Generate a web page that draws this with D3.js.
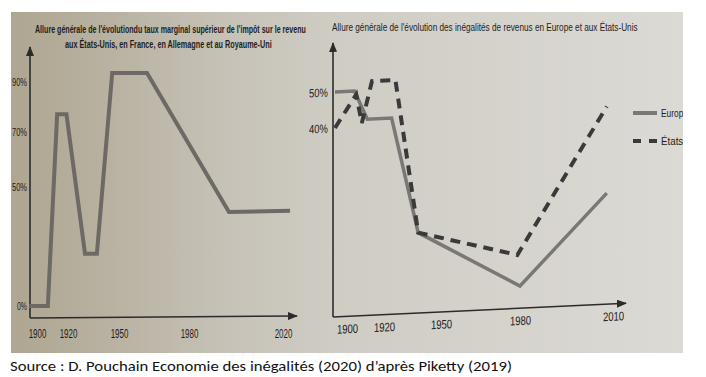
<!DOCTYPE html>
<html><head><meta charset="utf-8">
<script src="https://cdn.jsdelivr.net/npm/d3@7"></script>
<style>body{margin:0;background:#fff}</style>
</head><body>
<svg id="c" width="706" height="377"></svg>
<script>
// ---- data ----
const taxTitle = ["Allure générale de l'évolutiondu taux marginal supérieur de l'impôt sur le revenu",
                  "aux États-Unis, en France, en Allemagne et au Royaume-Uni"];
const taxYears = [1895, 1907, 1913, 1919, 1930, 1937, 1946, 1962, 1997, 2023];
const taxRates = [0, 0, 77, 77, 22, 22, 93.5, 93.5, 39.5, 40];
const taxYTicks = [0, 50, 70, 90];
const taxXTicks = [1900, 1920, 1950, 1980, 2020];

const ineqTitle = "Allure générale de l'évolution des inégalités de revenus en Europe et aux États-Unis";
const ineqEuropeYears = [1893.5, 1904, 1911, 1924, 1938, 1980, 2008];
const ineqEurope = [50, 50, 42, 42, 17, 4.7, 23.5];
const ineqUSYears = [1893.5, 1905, 1908, 1913.5, 1926, 1938, 1979, 2008];
const ineqUS = [40, 49, 41, 52.5, 52.5, 17, 11.3, 42.4];
const ineqYTicks = [40, 50];
const ineqXTicks = [1900, 1920, 1950, 1980, 2010];
const legendLabels = ["Europe", "États-Unis"];
const sourceText = "Source : D. Pouchain Economie des inégalités (2020) d’après Piketty (2019)";

// ---- drawing ----
const svg = d3.select("#c");
const defs = svg.append("defs");
const grad = defs.append("linearGradient").attr("id", "bg").attr("x1", 0).attr("x2", 1).attr("y1", 0).attr("y2", 0);
[[0, "#aea691"], [0.15, "#b9b2a2"], [0.32, "#c6c2b7"], [0.48, "#cfccc4"], [1, "#dcdad5"]]
  .forEach(([o, c]) => grad.append("stop").attr("offset", o).attr("stop-color", c));
defs.append("clipPath").attr("id", "photo").append("rect").attr("x", 11).attr("y", 12).attr("width", 672).attr("height", 341);
defs.append("marker").attr("id", "arr").attr("viewBox", "0 0 10 8").attr("refX", 9).attr("refY", 4)
  .attr("markerWidth", 10).attr("markerHeight", 8).attr("markerUnits", "userSpaceOnUse").attr("orient", "auto")
  .append("path").attr("d", "M0,0L10,4L0,8z").attr("fill", "#2b2b2b");

const root = svg.append("g").attr("clip-path", "url(#photo)");
root.append("rect").attr("x", 11).attr("y", 12).attr("width", 672).attr("height", 341).attr("fill", "url(#bg)");

const sans = "'Liberation Sans',Arial,sans-serif";
const axisCol = "#2b2b2b";
const tickCol = "#1c1c1c";
// condense a tick text to a given width per character
const squeeze = (sel, perChar) => sel.attr("textLength", function () { return this.textContent.length * perChar; })
  .attr("lengthAdjust", "spacingAndGlyphs");
// draw a text horizontally scaled so that it spans exactly `w` pixels
function fitText(parent, str, x, y, w, anchor, opts) {
  const t = parent.append("text").attr("font-family", sans).attr("font-size", opts.size)
    .attr("font-weight", opts.weight || "normal").attr("fill", opts.fill || "#222").text(str);
  const nat = t.node().getComputedTextLength();
  const k = w / nat;
  const x0 = anchor === "middle" ? x - w / 2 : x;
  t.attr("transform", `translate(${x0},${y}) scale(${k},1)`);
  return t;
}

// ---------- left chart ----------
const L = root.append("g");
const xL = d3.scaleLinear().domain(taxXTicks).range([37, 68, 119, 189, 283]);
const yL = d3.scaleLinear().domain(taxYTicks).range([306, 187, 131.7, 81.7]);

fitText(L, taxTitle[0], 170.5, 33, 271, "middle", {size: 11.5, weight: "bold", fill: "#1f1f1f"});
fitText(L, taxTitle[1], 168.5, 48, 207, "middle", {size: 11.5, weight: "bold", fill: "#1f1f1f"});

L.append("line").attr("x1", 30).attr("y1", 318).attr("x2", 30).attr("y2", 47)
  .attr("stroke", axisCol).attr("stroke-width", 1.6).attr("marker-end", "url(#arr)");
L.append("line").attr("x1", 30).attr("y1", 318).attr("x2", 297).attr("y2", 316)
  .attr("stroke", axisCol).attr("stroke-width", 1.6).attr("marker-end", "url(#arr)");

const yAxL = L.append("g").attr("transform", "translate(29,0)")
  .call(d3.axisLeft(yL).tickValues(taxYTicks).tickSize(0).tickPadding(2).tickFormat(d => d + "%"));
yAxL.select(".domain").remove();
yAxL.selectAll("text").attr("font-family", sans).attr("font-size", 11).attr("fill", tickCol).call(squeeze, 5);

const xAxL = L.append("g").attr("transform", "translate(0,318)")
  .call(d3.axisBottom(xL).tickValues(taxXTicks).tickSize(0).tickPadding(11).tickFormat(d3.format("d")));
xAxL.select(".domain").remove();
xAxL.selectAll("text").attr("font-family", sans).attr("font-size", 12).attr("fill", tickCol).call(squeeze, 4.4);

L.append("path").datum(taxYears.map((y, i) => [y, taxRates[i]]))
  .attr("d", d3.line().x(d => xL(d[0])).y(d => yL(d[1])))
  .attr("fill", "none").attr("stroke", "#6d6964").attr("stroke-width", 4).attr("stroke-linejoin", "miter");

// ---------- right chart ----------
const xR = d3.scaleLinear().domain(ineqXTicks).range([347, 384, 441, 520, 613]);
const yR = d3.scaleLinear().domain([0, 40, 50]).range([317, 128, 92]);

fitText(root, ineqTitle, 332, 31, 306, "start", {size: 11.5, fill: "#1f1f1f"});

const R = root.append("g").attr("transform", "translate(333,317) skewY(-2.69) translate(-333,-317)");
R.append("line").attr("x1", 333).attr("y1", 317).attr("x2", 333).attr("y2", 43)
  .attr("stroke", axisCol).attr("stroke-width", 1.6).attr("marker-end", "url(#arr)");
R.append("line").attr("x1", 333).attr("y1", 317).attr("x2", 626).attr("y2", 317)
  .attr("stroke", axisCol).attr("stroke-width", 1.6).attr("marker-end", "url(#arr)");

const yAxR = R.append("g").attr("transform", "translate(330,0)")
  .call(d3.axisLeft(yR).tickValues(ineqYTicks).tickSize(0).tickPadding(2).tickFormat(d => d + "%"));
yAxR.select(".domain").remove();
yAxR.selectAll("text").attr("font-family", sans).attr("font-size", 12).attr("fill", tickCol).call(squeeze, 6.3);

const xAxR = R.append("g").attr("transform", "translate(0,317)")
  .call(d3.axisBottom(xR).tickValues(ineqXTicks).tickSize(0).tickPadding(8).tickFormat(d3.format("d")));
xAxR.select(".domain").remove();
xAxR.selectAll("text").attr("font-family", sans).attr("font-size", 12.5).attr("fill", tickCol).call(squeeze, 5.3);

const lineR = d3.line().x(d => xR(d[0])).y(d => yR(d[1]));
R.append("path").datum(ineqEuropeYears.map((y, i) => [y, ineqEurope[i]]))
  .attr("d", lineR).attr("fill", "none").attr("stroke", "#7a7875").attr("stroke-width", 3.5);
R.append("path").datum(ineqUSYears.map((y, i) => [y, ineqUS[i]]))
  .attr("d", lineR).attr("fill", "none").attr("stroke", "#3a3a3a").attr("stroke-width", 4)
  .attr("stroke-dasharray", "10,7");

// legend (cut by the photo edge, as in the reference)
const lg = root.append("g").attr("transform", "translate(633,0)");
lg.append("line").attr("x1", 0).attr("x2", 24).attr("y1", 113).attr("y2", 113)
  .attr("stroke", "#7a7875").attr("stroke-width", 4);
lg.append("line").attr("x1", 0).attr("x2", 24).attr("y1", 141).attr("y2", 141)
  .attr("stroke", "#3a3a3a").attr("stroke-width", 4).attr("stroke-dasharray", "8,8");
lg.selectAll("text").data(legendLabels).join("text")
  .attr("x", 28).attr("y", (d, i) => i ? 145 : 117)
  .attr("font-family", sans).attr("font-size", 11.5).attr("fill", tickCol).text(d => d).call(squeeze, 4.5);

// source caption
svg.append("text").attr("x", 10).attr("y", 371).attr("textLength", 502).attr("lengthAdjust", "spacingAndGlyphs")
  .attr("font-family", "Carlito,Lato,'Open Sans',sans-serif").attr("font-size", 14.5).attr("fill", "#111").text(sourceText);
</script>
</body></html>
